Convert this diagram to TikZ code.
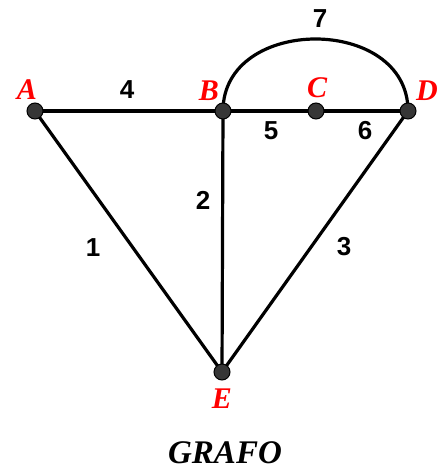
\documentclass[tikz,border=0pt]{standalone}
\usepackage{fontspec}
\setmainfont{Liberation Serif}
\newfontfamily\digitfont{Liberation Sans}
\usetikzlibrary{backgrounds}
\definecolor{vfill}{HTML}{363636}
\definecolor{lblred}{HTML}{FF0000}
\tikzset{
  vertex/.style={circle,fill=vfill,draw=black,line width=1pt,minimum size=16pt,inner sep=0pt},
  edge/.style={line width=3.2pt,black},
  vlabel/.style={text=lblred,font=\fontsize{30}{30}\selectfont\bfseries\itshape,inner sep=0pt},
  wlabel/.style={text=black,font=\digitfont\fontsize{26}{26}\selectfont\bfseries,inner sep=0pt},
  titlelabel/.style={text=black,font=\fontsize{33}{33}\selectfont\bfseries\itshape,inner sep=0pt}
}
\begin{document}
\begin{tikzpicture}[x=1pt,y=-1pt]
\useasboundingbox (0,0) rectangle (447,470);
% vertices
\node[vertex] (A) at (35,111) {};
\node[vertex] (B) at (223,111) {};
\node[vertex] (C) at (316,111) {};
\node[vertex] (D) at (408,111) {};
\node[vertex] (E) at (222,372) {};
% edges
\begin{pgfonlayer}{background}
\draw[edge] (A.center) -- (B.center);
\draw[edge] (B.center) -- (C.center);
\draw[edge] (C.center) -- (D.center);
\draw[edge] (A.center) -- (E.center);
\draw[edge] (B.center) -- (E.center);
\draw[edge] (D.center) -- (E.center);
\draw[edge] (B.center) .. controls +(0,-96) and +(0,-96) .. (D.center);
\end{pgfonlayer}
% vertex labels
\node[vlabel] (lA) at (27,90) {A};
\node[vlabel] (lB) at (209,91) {B};
\node[vlabel] (lC) at (317,88) {C};
\node[vlabel] (lD) at (427,91) {D};
\node[vlabel] (lE) at (222,399) {E};
% weights
\node[wlabel] (w4) at (127,90) {4};
\node[wlabel] (w5) at (271,131) {5};
\node[wlabel] (w6) at (365,131) {6};
\node[wlabel] (w7) at (320,19) {7};
\node[wlabel] (w2) at (203,200) {2};
\node[wlabel] (w1) at (93,248) {1};
\node[wlabel] (w3) at (344,247) {3};
% title
\node[titlelabel] (title) at (225,453) {GRAFO};
\end{tikzpicture}
\end{document}
